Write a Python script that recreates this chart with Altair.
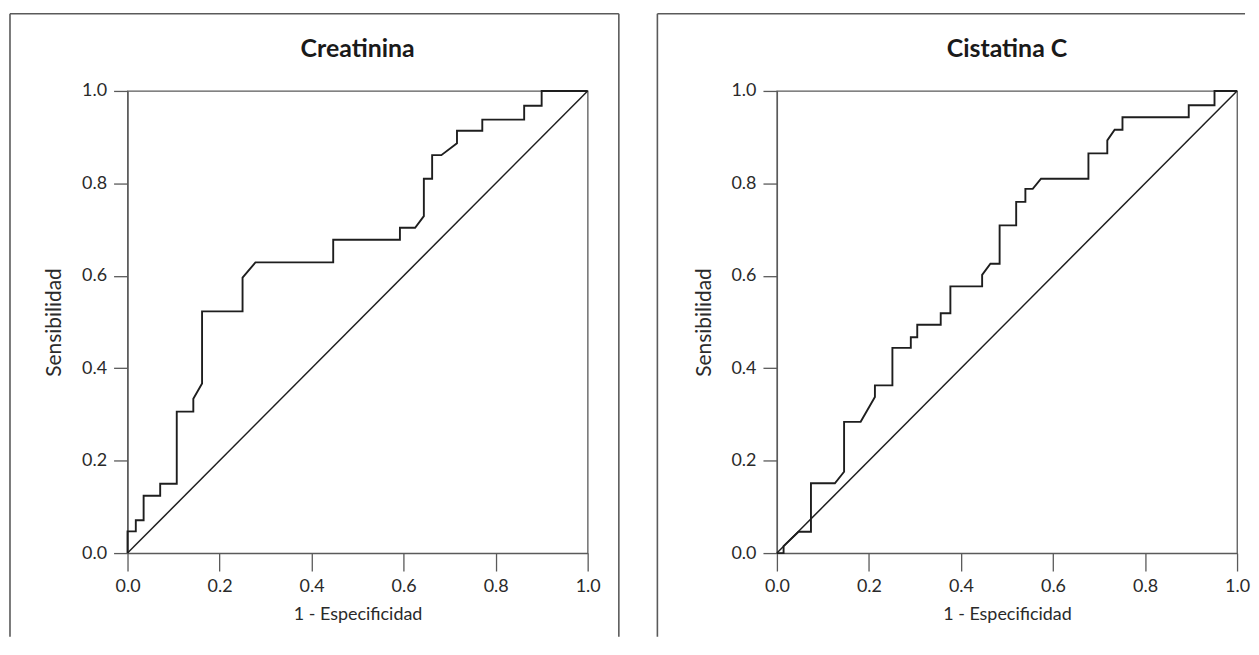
import altair as alt
import pandas as pd

# ROC curve, Creatinina (1 - especificidad, sensibilidad)
creat_x = [0, 0, 0.018, 0.018, 0.035, 0.035, 0.071, 0.071, 0.107, 0.107, 0.143,
           0.143, 0.162, 0.162, 0.250, 0.250, 0.278, 0.447, 0.447, 0.592, 0.592,
           0.625, 0.644, 0.644, 0.662, 0.662, 0.682, 0.716, 0.716, 0.771, 0.771,
           0.862, 0.862, 0.900, 0.900, 1.0]
creat_y = [0, 0.047, 0.047, 0.071, 0.071, 0.124, 0.124, 0.150, 0.150, 0.306, 0.306,
           0.334, 0.367, 0.523, 0.523, 0.596, 0.629, 0.629, 0.678, 0.678, 0.704,
           0.704, 0.729, 0.810, 0.810, 0.861, 0.861, 0.887, 0.914, 0.914, 0.938,
           0.938, 0.968, 0.968, 1.0, 1.0]

# ROC curve, Cistatina C
cist_x = [0, 0.0145, 0.0145, 0.047, 0.074, 0.074, 0.126, 0.146, 0.146, 0.182,
          0.213, 0.213, 0.251, 0.251, 0.291, 0.291, 0.305, 0.305, 0.356, 0.356,
          0.377, 0.377, 0.446, 0.446, 0.464, 0.484, 0.484, 0.520, 0.520, 0.540,
          0.540, 0.556, 0.574, 0.677, 0.677, 0.718, 0.718, 0.734, 0.751, 0.751,
          0.895, 0.895, 0.951, 0.951, 1.0]
cist_y = [0, 0, 0.015, 0.046, 0.046, 0.151, 0.151, 0.176, 0.284, 0.284,
          0.338, 0.363, 0.363, 0.444, 0.444, 0.467, 0.467, 0.494, 0.494, 0.519,
          0.519, 0.577, 0.577, 0.602, 0.626, 0.626, 0.709, 0.709, 0.760, 0.760,
          0.788, 0.788, 0.810, 0.810, 0.865, 0.865, 0.893, 0.916, 0.916, 0.943,
          0.943, 0.969, 0.969, 1.0, 1.0]

ref_x = [0.0, 1.0]
ref_y = [0.0, 1.0]
tick_values = [0.0, 0.2, 0.4, 0.6, 0.8, 1.0]

panel_titles = ["Creatinina", "Cistatina C"]
x_title = "1 - Especificidad"
y_title = "Sensibilidad"

W, H = 462, 464
FONT = "Lato"
LINE = "#1e1e1e"
BOX = "#5a5a5a"


def panel(xs, ys, title, box_left, box_right, draw_right):
    df = pd.DataFrame({"x": xs, "y": ys, "i": list(range(len(xs)))})
    dref = pd.DataFrame({"x": ref_x, "y": ref_y})
    dummy = pd.DataFrame({"k": [0]})

    xenc = alt.X("x:Q", scale=alt.Scale(domain=[0, 1], nice=False),
                 axis=alt.Axis(values=tick_values, format=".1f", title=x_title))
    yenc = alt.Y("y:Q", scale=alt.Scale(domain=[0, 1], nice=False),
                 axis=alt.Axis(values=tick_values, format=".1f", title=y_title))

    curve = alt.Chart(df).mark_line(color=LINE, strokeWidth=1.9).encode(
        x=xenc, y=yenc, order="i:Q")
    diag = alt.Chart(dref).mark_line(color=LINE, strokeWidth=1.5).encode(
        x="x:Q", y="y:Q")

    ttl = alt.Chart(dummy).mark_text(
        text=title, font=FONT, fontSize=25, fontWeight="bold", color="#1a1a1a",
        align="center", baseline="middle").encode(
        x=alt.value(W / 2), y=alt.value(-42))

    top = -77.5
    bottom = 548
    layers = [curve, diag, ttl]
    layers.append(alt.Chart(dummy).mark_rule(color=BOX, strokeWidth=1.6).encode(
        x=alt.value(box_left), x2=alt.value(box_right), y=alt.value(top)))
    layers.append(alt.Chart(dummy).mark_rule(color=BOX, strokeWidth=1.6).encode(
        x=alt.value(box_left), y=alt.value(top), y2=alt.value(bottom)))
    if draw_right:
        layers.append(alt.Chart(dummy).mark_rule(color=BOX, strokeWidth=1.6).encode(
            x=alt.value(box_right), y=alt.value(top), y2=alt.value(bottom)))
    return alt.layer(*layers).properties(width=W, height=H)


left = panel(creat_x, creat_y, panel_titles[0], -118, 493.3, True)
right = panel(cist_x, cist_y, panel_titles[1], -120, 470, False)

chart = alt.hconcat(left, right, spacing=35).properties(
    padding={"left": 0, "top": 3, "right": 0, "bottom": 0}
).configure_view(
    stroke=BOX, strokeWidth=1.3
).configure_axis(
    domainColor=BOX, domainWidth=1.3, tickColor=BOX, tickWidth=1.3,
    grid=False, labelFont=FONT, labelFontSize=18, labelColor="#2a2a2a",
    labelFlush=False, labelOverlap=False,
    titleFont=FONT, titleFontWeight="normal", titleColor="#2a2a2a"
).configure_axisX(
    tickSize=18, labelPadding=7, titlePadding=10, titleFontSize=18
).configure_axisY(
    tickSize=14, labelPadding=7, titlePadding=17, titleFontSize=21
)

chart.save("out.html", embed_options={"renderer": "svg", "actions": False})
